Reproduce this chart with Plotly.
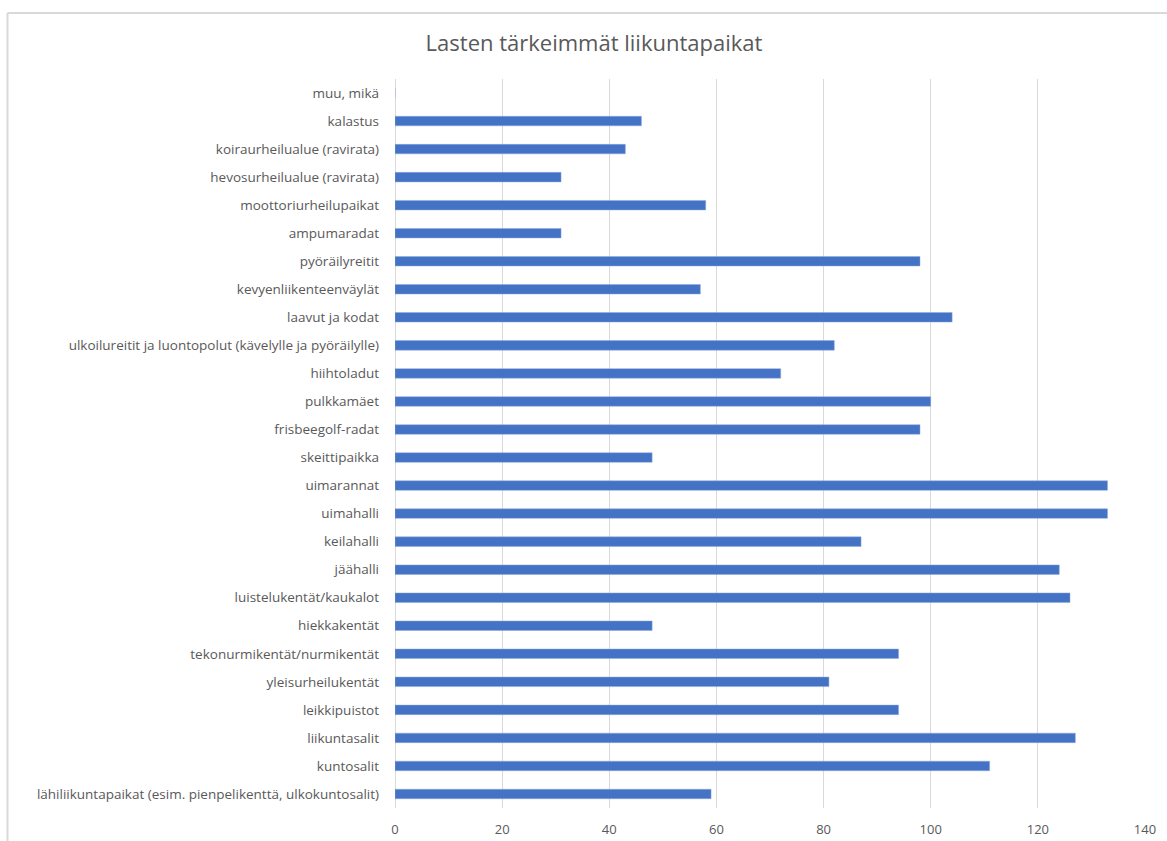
import plotly.graph_objects as go

# Categories listed top to bottom as they appear on the chart
places = [
    "muu, mikä",
    "kalastus",
    "koiraurheilualue (ravirata)",
    "hevosurheilualue (ravirata)",
    "moottoriurheilupaikat",
    "ampumaradat",
    "pyöräilyreitit",
    "kevyenliikenteenväylät",
    "laavut ja kodat",
    "ulkoilureitit ja luontopolut (kävelylle ja pyöräilylle)",
    "hiihtoladut",
    "pulkkamäet",
    "frisbeegolf-radat",
    "skeittipaikka",
    "uimarannat",
    "uimahalli",
    "keilahalli",
    "jäähalli",
    "luistelukentät/kaukalot",
    "hiekkakentät",
    "tekonurmikentät/nurmikentät",
    "yleisurheilukentät",
    "leikkipuistot",
    "liikuntasalit",
    "kuntosalit",
    "lähiliikuntapaikat (esim. pienpelikenttä, ulkokuntosalit)",
]
counts = [0, 46, 43, 31, 58, 31, 98, 57, 104, 82, 72, 100, 98, 48,
          133, 133, 87, 124, 126, 48, 94, 81, 94, 127, 111, 59]
x_ticks = [0, 20, 40, 60, 80, 100, 120, 140]

TEXT = "#595959"
GRID = "#D9D9D9"
FONT = "Open Sans"

fig = go.Figure(
    go.Bar(
        x=counts,
        y=places,
        orientation="h",
        width=0.34,
        marker=dict(color="#4472C4", line=dict(color="#8FAADC", width=0.5)),
    )
)

W, H = 1167, 841
ml, mr, mt, mb = 395, 22, 79, 33
pw, ph = W - ml - mr, H - mt - mb

def px_x(v):
    return (v - ml) / pw

def px_y(v):
    return (H - mb - v) / ph

fig.update_layout(
    width=W,
    height=H,
    margin=dict(l=ml, r=mr, t=mt, b=mb, autoexpand=False),
    paper_bgcolor="white",
    plot_bgcolor="white",
    showlegend=False,
    font=dict(family=FONT, size=13, color=TEXT),
    title=dict(
        text="Lasten tärkeimmät liikuntapaikat",
        x=px_x(594),
        xanchor="center",
        xref="paper",
        y=1 - 43 / H,
        yanchor="middle",
        font=dict(family=FONT, size=22, color=TEXT),
    ),
    xaxis=dict(
        range=[0, 140],
        tickvals=x_ticks,
        showgrid=True,
        gridcolor=GRID,
        gridwidth=1,
        zeroline=True,
        zerolinecolor=GRID,
        zerolinewidth=1,
        showline=False,
        ticks="",
        ticklabelstandoff=12,
        tickfont=dict(size=13, color=TEXT),
        automargin=False,
        fixedrange=True,
    ),
    yaxis=dict(
        autorange="reversed",
        showgrid=False,
        zeroline=False,
        showline=False,
        ticks="",
        ticklabelstandoff=15,
        tickfont=dict(size=13.5, color=TEXT),
        automargin=False,
        fixedrange=True,
    ),
    shapes=[
        # chart frame (left and top edges)
        dict(type="line", xref="paper", yref="paper",
             x0=px_x(7.5), x1=px_x(1180), y0=px_y(13), y1=px_y(13),
             line=dict(color=GRID, width=2)),
        dict(type="line", xref="paper", yref="paper",
             x0=px_x(7.5), x1=px_x(7.5), y0=px_y(13), y1=px_y(860),
             line=dict(color=GRID, width=2)),
    ],
)

fig.write_html("out.html")
